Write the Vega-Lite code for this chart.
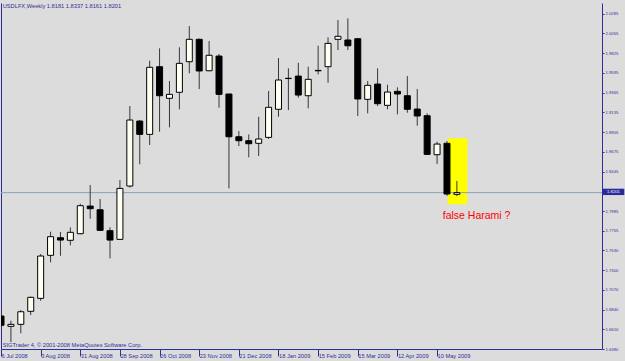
{
  "$schema": "https://vega.github.io/schema/vega-lite/v6.json",
  "autosize": "none",
  "width": 601,
  "height": 346,
  "padding": {"left": 1, "top": 3, "right": 23, "bottom": 12},
  "background": "#dcdcdc",
  "config": {
    "font": "Liberation Sans",
    "view": {"stroke": null},
    "scale": {"continuousPadding": 0},
    "axis": {"grid": false, "title": null, "domainColor": "#2e2e98", "tickColor": "#2e2e98", "labelColor": "#2e2e98", "labelFont": "Liberation Sans"}
  },
  "datasets": {
    "candles": [
      {"date": "2008-07-06", "open": 1.6764, "high": 1.6872, "low": 1.6624, "close": 1.6656},
      {"date": "2008-07-13", "open": 1.6644, "high": 1.6709, "low": 1.6461, "close": 1.6667},
      {"date": "2008-07-20", "open": 1.6667, "high": 1.6834, "low": 1.6563, "close": 1.6814},
      {"date": "2008-07-27", "open": 1.6819, "high": 1.6989, "low": 1.6776, "close": 1.6982},
      {"date": "2008-08-03", "open": 1.6970, "high": 1.7486, "low": 1.6942, "close": 1.7463},
      {"date": "2008-08-10", "open": 1.7471, "high": 1.7746, "low": 1.7390, "close": 1.7688},
      {"date": "2008-08-17", "open": 1.7676, "high": 1.7743, "low": 1.7466, "close": 1.7649},
      {"date": "2008-08-24", "open": 1.7646, "high": 1.7797, "low": 1.7588, "close": 1.7739},
      {"date": "2008-08-31", "open": 1.7723, "high": 1.8072, "low": 1.7716, "close": 1.8049},
      {"date": "2008-09-07", "open": 1.8045, "high": 1.8290, "low": 1.7897, "close": 1.8014},
      {"date": "2008-09-14", "open": 1.8002, "high": 1.8127, "low": 1.7755, "close": 1.7762},
      {"date": "2008-09-21", "open": 1.7758, "high": 1.7797, "low": 1.7436, "close": 1.7649},
      {"date": "2008-09-28", "open": 1.7657, "high": 1.8348, "low": 1.7650, "close": 1.8251},
      {"date": "2008-10-05", "open": 1.8278, "high": 1.9210, "low": 1.8260, "close": 1.9047},
      {"date": "2008-10-12", "open": 1.9035, "high": 1.9047, "low": 1.8531, "close": 1.8880},
      {"date": "2008-10-19", "open": 1.8880, "high": 1.9738, "low": 1.8756, "close": 1.9661},
      {"date": "2008-10-26", "open": 1.9668, "high": 1.9882, "low": 1.8911, "close": 1.9330},
      {"date": "2008-11-02", "open": 1.9300, "high": 1.9501, "low": 1.8962, "close": 1.9346},
      {"date": "2008-11-09", "open": 1.9370, "high": 1.9894, "low": 1.9172, "close": 1.9707},
      {"date": "2008-11-16", "open": 1.9726, "high": 2.0142, "low": 1.9591, "close": 1.9987},
      {"date": "2008-11-23", "open": 1.9987, "high": 1.9995, "low": 1.9408, "close": 1.9618},
      {"date": "2008-11-30", "open": 1.9621, "high": 1.9967, "low": 1.9615, "close": 1.9801},
      {"date": "2008-12-07", "open": 1.9792, "high": 1.9816, "low": 1.9190, "close": 1.9346},
      {"date": "2008-12-14", "open": 1.9350, "high": 1.9352, "low": 1.8251, "close": 1.8852},
      {"date": "2008-12-21", "open": 1.8852, "high": 1.8919, "low": 1.8744, "close": 1.8806},
      {"date": "2008-12-28", "open": 1.8806, "high": 1.8880, "low": 1.8613, "close": 1.8771},
      {"date": "2009-01-04", "open": 1.8776, "high": 1.9085, "low": 1.8628, "close": 1.8826},
      {"date": "2009-01-11", "open": 1.8845, "high": 1.9385, "low": 1.8826, "close": 1.9195},
      {"date": "2009-01-18", "open": 1.9172, "high": 1.9769, "low": 1.9085, "close": 1.9513},
      {"date": "2009-01-25", "open": 1.9530, "high": 1.9649, "low": 1.9163, "close": 1.9533},
      {"date": "2009-02-01", "open": 1.9559, "high": 1.9714, "low": 1.9307, "close": 1.9338},
      {"date": "2009-02-08", "open": 1.9330, "high": 1.9668, "low": 1.9183, "close": 1.9521},
      {"date": "2009-02-15", "open": 1.9620, "high": 1.9912, "low": 1.9579, "close": 1.9625},
      {"date": "2009-02-22", "open": 1.9668, "high": 2.0010, "low": 1.9481, "close": 1.9940},
      {"date": "2009-03-01", "open": 1.9987, "high": 2.0212, "low": 1.9862, "close": 2.0022},
      {"date": "2009-03-08", "open": 1.9979, "high": 2.0231, "low": 1.9862, "close": 1.9912},
      {"date": "2009-03-15", "open": 1.9994, "high": 1.9996, "low": 1.9094, "close": 1.9292},
      {"date": "2009-03-22", "open": 1.9288, "high": 1.9501, "low": 1.9125, "close": 1.9451},
      {"date": "2009-03-29", "open": 1.9466, "high": 1.9649, "low": 1.9210, "close": 1.9237},
      {"date": "2009-04-05", "open": 1.9218, "high": 1.9458, "low": 1.9172, "close": 1.9373},
      {"date": "2009-04-12", "open": 1.9381, "high": 1.9428, "low": 1.9113, "close": 1.9350},
      {"date": "2009-04-19", "open": 1.9330, "high": 1.9559, "low": 1.9132, "close": 1.9172},
      {"date": "2009-04-26", "open": 1.9175, "high": 1.9408, "low": 1.8981, "close": 1.9094},
      {"date": "2009-05-03", "open": 1.9097, "high": 1.9125, "low": 1.8640, "close": 1.8647},
      {"date": "2009-05-10", "open": 1.8643, "high": 1.8794, "low": 1.8534, "close": 1.8767},
      {"date": "2009-05-17", "open": 1.8776, "high": 1.8802, "low": 1.8165, "close": 1.8185},
      {"date": "2009-05-24", "open": 1.8181, "high": 1.8337, "low": 1.8161, "close": 1.8201}
    ],
    "notes": [
      {"date": "2008-07-07T05:00:00Z", "price": 2.0371, "label": "USDLFX,Weekly  1.8181 1.8337 1.8161 1.8201"},
      {"date": "2008-07-07T05:00:00Z", "price": 1.6426, "label": "SIGTrader 4, © 2001-2008 MetaQuotes Software Corp."}
    ]
  },
  "layer": [
    {
      "data": {"values": [{"start": "2009-05-17T12:00:00Z", "end": "2009-05-31T09:00:00Z", "top": 1.8834, "bottom": 1.8065}]},
      "mark": {"type": "rect", "color": "#ffff00", "opacity": 1},
      "encoding": {
        "x": {"field": "start", "type": "temporal", "scale": {"type": "utc", "nice": false, "padding": 0}},
        "x2": {"field": "end"},
        "y": {"field": "top", "type": "quantitative", "axis": null},
        "y2": {"field": "bottom"}
      }
    },
    {
      "data": {"values": [{"price": 1.8201}]},
      "mark": {"type": "rule", "color": "#8aa0b8", "strokeWidth": 1},
      "encoding": {
        "y": {"field": "price", "type": "quantitative", "axis": null}
      }
    },
    {
      "data": {"name": "candles"},
      "mark": {"type": "rule", "color": "#383838", "strokeWidth": 1, "clip": true},
      "encoding": {
        "x": {
          "field": "date", "type": "temporal",
          "scale": {"type": "utc", "nice": false, "padding": 0, "domain": [{"year": 2008, "month": 7, "date": 6, "hours": 0, "utc": true}, {"year": 2009, "month": 9, "date": 3, "hours": 12, "utc": true}]},
          "axis": {
            "values": [
              {"year": 2008, "month": 7, "date": 6, "utc": true},
              {"year": 2008, "month": 8, "date": 3, "utc": true},
              {"year": 2008, "month": 8, "date": 31, "utc": true},
              {"year": 2008, "month": 9, "date": 28, "utc": true},
              {"year": 2008, "month": 10, "date": 26, "utc": true},
              {"year": 2008, "month": 11, "date": 23, "utc": true},
              {"year": 2008, "month": 12, "date": 21, "utc": true},
              {"year": 2009, "month": 1, "date": 18, "utc": true},
              {"year": 2009, "month": 2, "date": 15, "utc": true},
              {"year": 2009, "month": 3, "date": 15, "utc": true},
              {"year": 2009, "month": 4, "date": 12, "utc": true},
              {"year": 2009, "month": 5, "date": 10, "utc": true}
            ],
            "format": "%-d %b %Y",
            "labelAlign": "left",
            "labelBaseline": "middle",
            "labelDx": 1.5,
            "labelPadding": -1,
            "tickSize": 7,
            "labelFontSize": 5.7,
            "labelOverlap": false,
            "labelFlush": false
          }
        },
        "y": {
          "field": "low", "type": "quantitative",
          "scale": {"domain": [1.638, 2.041], "zero": false, "nice": false, "padding": 0},
          "axis": {"orient": "left", "labels": false, "ticks": false, "domain": true}
        },
        "y2": {"field": "high"}
      }
    },
    {
      "data": {"name": "candles"},
      "mark": {"type": "bar", "size": 6, "stroke": "#000000", "strokeWidth": 1, "clip": true},
      "encoding": {
        "x": {"field": "date", "type": "temporal", "scale": {"type": "utc", "nice": false, "padding": 0}},
        "y": {
          "field": "open", "type": "quantitative",
          "scale": {"domain": [1.638, 2.041], "zero": false, "nice": false, "padding": 0},
          "axis": {
            "orient": "right",
            "values": [1.638, 1.661, 1.684, 1.707, 1.73, 1.753, 1.7755, 1.7985, 1.8445, 1.8675, 1.8905, 1.9135, 1.9365, 1.9595, 1.9825, 2.0055, 2.0285],
            "format": ".4f",
            "tickSize": 2,
            "labelPadding": 1,
            "labelFontSize": 4.2,
            "labelBaseline": "middle",
            "labelOverlap": false,
            "labelFlush": false
          }
        },
        "y2": {"field": "close"},
        "fill": {"condition": {"test": "datum.close >= datum.open", "value": "#fffff2"}, "value": "#000000"}
      }
    },
    {
      "data": {"name": "notes"},
      "mark": {"type": "text", "align": "left", "baseline": "middle", "fontSize": 5.7, "color": "#2e2e98"},
      "encoding": {
        "x": {"field": "date", "type": "temporal", "scale": {"type": "utc", "nice": false, "padding": 0}},
        "y": {"field": "price", "type": "quantitative", "axis": null},
        "text": {"field": "label"}
      }
    },
    {
      "data": {"values": [{"date": "2009-05-14T00:00:00Z", "price": 1.7929, "label": "false Harami ?"}]},
      "mark": {"type": "text", "align": "left", "baseline": "middle", "fontSize": 10.5, "color": "#ff0000"},
      "encoding": {
        "x": {"field": "date", "type": "temporal", "scale": {"type": "utc", "nice": false, "padding": 0}},
        "y": {"field": "price", "type": "quantitative", "axis": null},
        "text": {"field": "label"}
      }
    },
    {
      "data": {"values": [{"start": "2009-09-04T00:00:00Z", "end": "2009-09-19T06:00:00Z", "top": 1.8247, "bottom": 1.8173}]},
      "mark": {"type": "rect", "color": "#2a2a9a", "opacity": 1},
      "encoding": {
        "x": {"field": "start", "type": "temporal", "scale": {"type": "utc", "nice": false, "padding": 0}},
        "x2": {"field": "end"},
        "y": {"field": "top", "type": "quantitative", "axis": null},
        "y2": {"field": "bottom"}
      }
    },
    {
      "data": {"values": [{"date": "2009-09-11T15:00:00Z", "price": 1.8211, "label": "1.8201"}]},
      "mark": {"type": "text", "align": "center", "baseline": "middle", "fontSize": 4.2, "color": "#ffffff"},
      "encoding": {
        "x": {"field": "date", "type": "temporal", "scale": {"type": "utc", "nice": false, "padding": 0}},
        "y": {"field": "price", "type": "quantitative", "axis": null},
        "text": {"field": "label"}
      }
    }
  ],
  "resolve": {"axis": {"y": "independent"}}
}
